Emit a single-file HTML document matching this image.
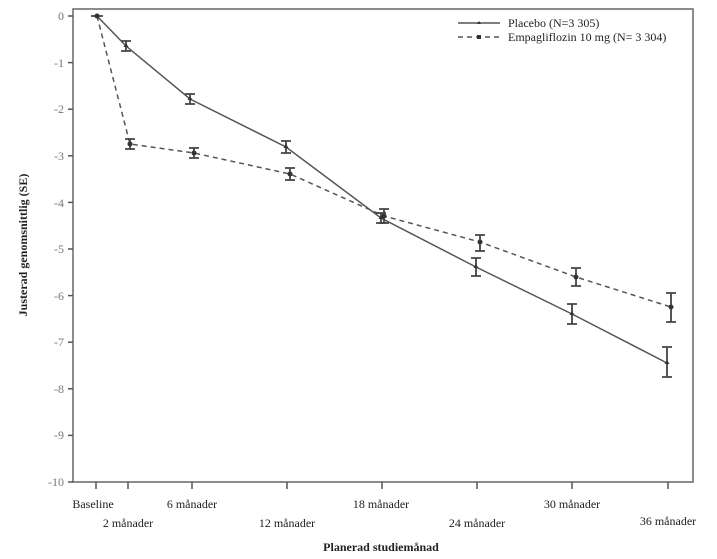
<!DOCTYPE html>
<html><head><meta charset="utf-8"><style>
html,body{margin:0;padding:0;background:#fff;}
svg{display:block;font-family:"Liberation Serif",serif;}
</style></head><body>
<svg width="717" height="559" viewBox="0 0 717 559" xmlns="http://www.w3.org/2000/svg">
<rect x="0" y="0" width="717" height="559" fill="#fff"/>
<rect x="73" y="9" width="620" height="473" fill="none" stroke="#666" stroke-width="1.5"/>
<g stroke="#555" stroke-width="1.5">
<line x1="68" y1="16" x2="73" y2="16"/><line x1="68" y1="62.6" x2="73" y2="62.6"/><line x1="68" y1="109.2" x2="73" y2="109.2"/><line x1="68" y1="155.8" x2="73" y2="155.8"/><line x1="68" y1="202.4" x2="73" y2="202.4"/><line x1="68" y1="249" x2="73" y2="249"/><line x1="68" y1="295.6" x2="73" y2="295.6"/><line x1="68" y1="342.2" x2="73" y2="342.2"/><line x1="68" y1="388.8" x2="73" y2="388.8"/><line x1="68" y1="435.4" x2="73" y2="435.4"/><line x1="68" y1="482" x2="73" y2="482"/>
<line x1="96" y1="482" x2="96" y2="489"/><line x1="128" y1="482" x2="128" y2="489"/><line x1="192" y1="482" x2="192" y2="489"/><line x1="287" y1="482" x2="287" y2="489"/><line x1="382" y1="482" x2="382" y2="489"/><line x1="477" y1="482" x2="477" y2="489"/><line x1="572" y1="482" x2="572" y2="489"/><line x1="668" y1="482" x2="668" y2="489"/>
</g>
<g fill="#777" font-size="12" text-anchor="end">
<text x="64" y="20">0</text><text x="64" y="67">-1</text><text x="64" y="113">-2</text><text x="64" y="160">-3</text><text x="64" y="207">-4</text><text x="64" y="253">-5</text><text x="64" y="300">-6</text><text x="64" y="346">-7</text><text x="64" y="393">-8</text><text x="64" y="439">-9</text><text x="64" y="486">-10</text>
</g>
<g fill="#222" font-size="12" text-anchor="middle">
<text x="93" y="508">Baseline</text><text x="128" y="527">2 månader</text><text x="192" y="508">6 månader</text><text x="287" y="527">12 månader</text><text x="381" y="508">18 månader</text><text x="477" y="527">24 månader</text><text x="572" y="508">30 månader</text><text x="668" y="525">36 månader</text>
</g>
<text x="381" y="551" text-anchor="middle" font-size="12" font-weight="bold" fill="#222">Planerad studiemånad</text>
<text transform="translate(27,245) rotate(-90)" text-anchor="middle" font-size="12" font-weight="bold" fill="#222">Justerad genomsnittlig (SE)</text>
<!-- Placebo -->
<polyline fill="none" stroke="#555" stroke-width="1.5" points="97,16 126,46 190,99 286,147 381,218 476,267 572,314 667,363"/>
<!-- Empa -->
<polyline fill="none" stroke="#555" stroke-width="1.5" stroke-dasharray="5,4" points="97,16 130,144 194,153 290,174 384,216 480,242 576,277 671,307"/>
<g stroke="#444" stroke-width="1.8" fill="none">
<path d="M126 41V51M121 41H131M121 51H131"/>
<path d="M190 94V104M185 94H195M185 104H195"/>
<path d="M286 141V153M281 141H291M281 153H291"/>
<path d="M381 213V223M376 213H386M376 223H386"/>
<path d="M476 258V276M471 258H481M471 276H481"/>
<path d="M572 304V324M567 304H577M567 324H577"/>
<path d="M667 347V377M662 347H672M662 377H672"/>
<path d="M97 14V18M91 16H103"/>
<path d="M130 139V149M125 139H135M125 149H135"/>
<path d="M194 148V158M189 148H199M189 158H199"/>
<path d="M290 168V180M285 168H295M285 180H295"/>
<path d="M384 209V223M379 209H389M379 223H389"/>
<path d="M480 235V251M475 235H485M475 251H485"/>
<path d="M576 268V286M571 268H581M571 286H581"/>
<path d="M671 293V322M666 293H676M666 322H676"/>
</g>
<g fill="#333">
<circle cx="97" cy="16" r="2.5"/><circle cx="130" cy="144" r="2.5"/><circle cx="194" cy="153" r="2.5"/><circle cx="290" cy="174" r="2.5"/><circle cx="384" cy="216" r="2.5"/><circle cx="480" cy="242" r="2.5"/><circle cx="576" cy="277" r="2.5"/><circle cx="671" cy="307" r="2.5"/>
<path d="M126 43l2.5 4h-5z M190 96l2.5 4h-5z M286 144l2.5 4h-5z M381 215l2.5 4h-5z M476 264l2.5 4h-5z M572 311l2.5 4h-5z M667 360l2.5 4h-5z"/>
</g>
<!-- legend -->
<line x1="458" y1="23" x2="500" y2="23" stroke="#555" stroke-width="1.5"/>
<path d="M479 21l2 3h-4z" fill="#333"/>
<line x1="458" y1="37" x2="500" y2="37" stroke="#555" stroke-width="1.5" stroke-dasharray="5,4"/>
<rect x="477" y="35" width="4" height="4" fill="#333"/>
<g fill="#222" font-size="12">
<text x="508" y="27">Placebo (N=3 305)</text>
<text x="508" y="41">Empagliflozin 10 mg (N= 3 304)</text>
</g>
</svg>
</body></html>
